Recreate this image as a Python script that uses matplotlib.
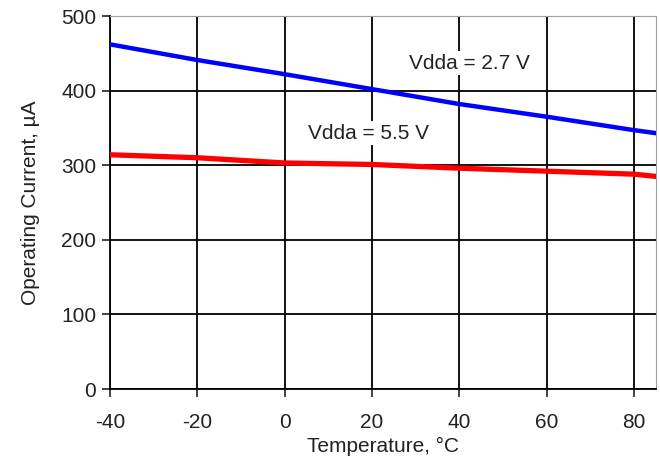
import matplotlib.pyplot as plt

temps = [-40, -20, 0, 20, 40, 60, 80, 85]
i_27 = [462, 441, 422, 402, 382, 365, 347, 343]
i_55 = [314, 310, 303, 301, 296, 292, 288, 285]

xticks = [-40, -20, 0, 20, 40, 60, 80]
yticks = [0, 100, 200, 300, 400, 500]

plt.rcParams['font.family'] = ['Liberation Sans', 'DejaVu Sans']
plt.rcParams['axes.unicode_minus'] = False

fig = plt.figure(figsize=(6.6, 4.59), dpi=100)
ax = fig.add_axes([0.1667, 0.1525, 0.827, 0.8126])

ax.set_xlim(-40, 85)
ax.set_ylim(0, 500)
ax.set_xticks(xticks)
ax.set_yticks(yticks)
ax.tick_params(labelsize=15, colors='#222222', length=6, width=1.2, direction='out')
ax.tick_params(axis='x', pad=11)
ax.tick_params(axis='y', pad=4)

ax.grid(True, color='black', linewidth=1.3)
ax.set_axisbelow(True)

ax.plot(temps, i_27, color='#0000ff', linewidth=3.2, zorder=3)
ax.plot(temps, i_55, color='#ff0000', linewidth=3.8, zorder=3)

ax.spines['left'].set_color('black')
ax.spines['bottom'].set_color('black')
ax.spines['left'].set_linewidth(1.3)
ax.spines['bottom'].set_linewidth(1.3)
ax.spines['top'].set_color('#a0a0a0')
ax.spines['right'].set_color('#a0a0a0')

ax.text(42.4, 437, "Vdda = 2.7 V", fontsize=15, ha='center', va='center', color='#222222',
        bbox=dict(facecolor='white', edgecolor='none', pad=2), zorder=4)
ax.text(19.1, 343, "Vdda = 5.5 V", fontsize=15, ha='center', va='center', color='#222222',
        bbox=dict(facecolor='white', edgecolor='none', pad=2), zorder=4)

ax.set_xlabel("Temperature, °C", fontsize=15, color='#222222', labelpad=4)
ax.set_ylabel("Operating Current, µA", fontsize=15, color='#222222', labelpad=15)

fig.savefig("out.png", dpi=100)
